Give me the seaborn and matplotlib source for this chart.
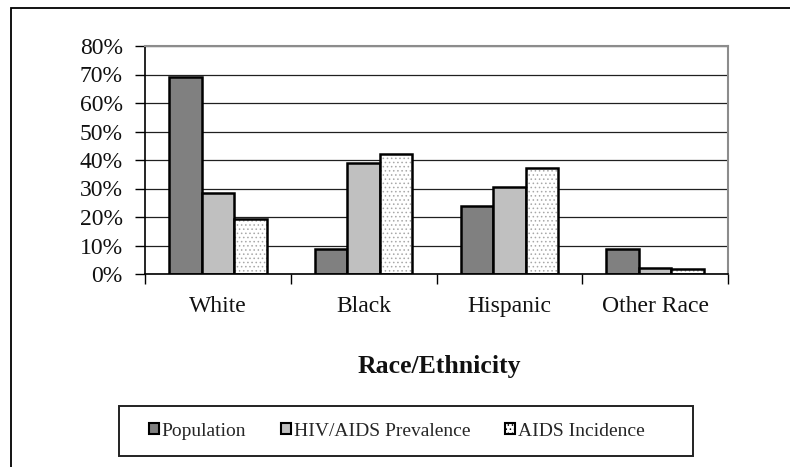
import pandas as pd
import matplotlib
matplotlib.use("Agg")
import matplotlib.pyplot as plt
import matplotlib.colors as mcolors
from matplotlib.patches import Patch, Rectangle
from matplotlib.ticker import PercentFormatter, FixedLocator
import seaborn as sns

# --- DATA ---
categories = ['White', 'Black', 'Hispanic', 'Other Race']
series = ['Population', 'HIV/AIDS Prevalence', 'AIDS Incidence']
population = [0.69, 0.087, 0.239, 0.087]
prevalence = [0.285, 0.391, 0.306, 0.022]
incidence = [0.194, 0.42, 0.371, 0.016]
y_ticks = [0.0, 0.1, 0.2, 0.3, 0.4, 0.5, 0.6, 0.7, 0.8]

colors = ['#808080', '#c0c0c0', '#ffffff']

df = pd.DataFrame({
    'category': categories * 3,
    'series': [series[0]] * 4 + [series[1]] * 4 + [series[2]] * 4,
    'value': population + prevalence + incidence,
})

sns.set_theme(style='white')
plt.rcParams['font.family'] = ['Liberation Serif', 'DejaVu Serif']
plt.rcParams['hatch.linewidth'] = 0.6

fig = plt.figure(figsize=(7.9, 4.67), dpi=100)
ax = fig.add_axes([145 / 790, 1 - 274 / 467, (728 - 145) / 790, (274 - 46) / 467])

sns.barplot(data=df, x='category', y='value', hue='series', order=categories,
            hue_order=series, palette=colors, width=0.67, edgecolor='black',
            linewidth=1.8, saturation=1, legend=False, ax=ax)

# dotted fill for the incidence bars
for bar in ax.containers[2]:
    bar.set_hatch('....')
    if hasattr(bar, 'set_hatchcolor'):
        bar.set_hatchcolor('#a8a8a8')
    else:
        bar._hatch_color = mcolors.to_rgba('#a8a8a8')

ax.set_ylim(0, 0.8)
ax.set_xlim(-0.5, len(categories) - 0.5)
ax.yaxis.set_major_locator(FixedLocator(y_ticks))
ax.yaxis.set_major_formatter(PercentFormatter(1.0, decimals=0))
ax.yaxis.grid(True, color='#202020', linewidth=0.9)
ax.set_axisbelow(True)

# category tick marks sit between the groups
ax.set_xticks([i - 0.5 for i in range(len(categories) + 1)], minor=True)
ax.tick_params(axis='x', which='major', length=0, pad=16, labelsize=17, colors='#111111')
ax.tick_params(axis='x', which='minor', length=7, width=1, color='black', direction='out', bottom=True)
ax.tick_params(axis='y', length=7, width=1, color='black', direction='out', left=True,
               pad=9, labelsize=17, labelcolor='#111111')
ax.set_xlabel('')
ax.set_ylabel('')

for side in ['left', 'bottom']:
    ax.spines[side].set_color('black')
    ax.spines[side].set_linewidth(1.2)
for side in ['top', 'right']:
    ax.spines[side].set_color('#8c8c8c')
    ax.spines[side].set_linewidth(1.5)

fig.text(439 / 790, 1 - 366 / 467, 'Race/Ethnicity', ha='center', va='center',
         fontsize=18.5, fontweight='bold', color='#111111')

# legend
handles = [Patch(facecolor=c, edgecolor='black', linewidth=1.5) for c in colors]
handles[2].set_hatch('....')
leg = fig.legend(handles, series, loc='center left', bbox_to_anchor=(149 / 790, 1 - 431 / 467),
                 ncol=3, frameon=False, fontsize=14, handlelength=0.5, handleheight=0.5,
                 handletextpad=0.15, columnspacing=1.8, borderpad=0, borderaxespad=0)

fig.patches.append(Rectangle((119 / 790, 1 - 456 / 467), 574 / 790, 50 / 467,
                             transform=fig.transFigure, fill=False, edgecolor='#222222',
                             linewidth=1.4))
# outer chart frame (its right and bottom edges lie outside the picture)
fig.patches.append(Rectangle((11 / 790, -0.2), 1.2, 0.2 + (1 - 8 / 467),
                             transform=fig.transFigure, fill=False, edgecolor='black',
                             linewidth=1.3))

fig.savefig('out.png', dpi=100)
